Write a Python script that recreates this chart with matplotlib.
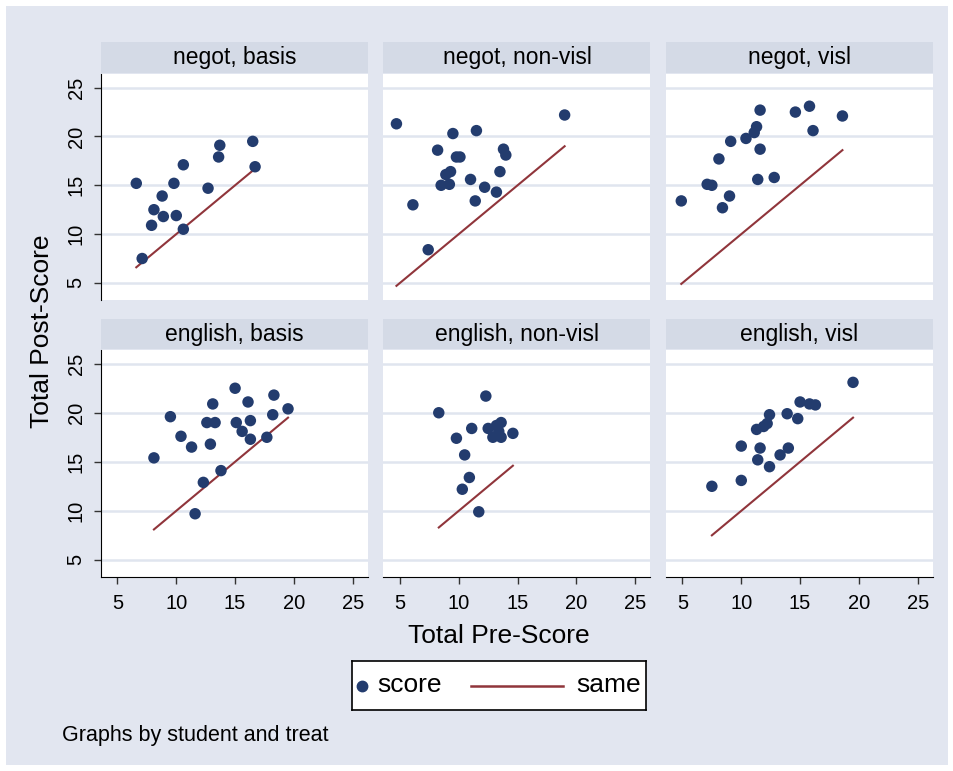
import matplotlib

matplotlib.use("Agg")
import matplotlib.pyplot as plt
from matplotlib.patches import Rectangle
from matplotlib.lines import Line2D

plt.rcParams["font.family"] = ["Liberation Sans", "DejaVu Sans"]

# panel titles (student, treat)
titles = [
    "negot, basis", "negot, non-visl", "negot, visl",
    "english, basis", "english, non-visl", "english, visl",
]

# pre-score / post-score per panel
pre_negot_basis = [6.6, 7.1, 7.9, 8.1, 8.8, 8.9, 10.0, 9.8, 10.6, 10.6, 12.7, 13.6, 13.7, 16.5, 16.7]
post_negot_basis = [15.2, 7.5, 10.9, 12.5, 13.9, 11.8, 11.9, 15.2, 17.1, 10.5, 14.7, 17.9, 19.1, 19.5, 16.9]

pre_negot_nonvisl = [4.7, 6.1, 7.4, 8.2, 9.5, 11.5, 9.8, 10.1, 8.9, 9.3, 8.5, 9.2,
                     11.0, 11.4, 12.2, 13.2, 13.5, 13.8, 14.0, 19.0]
post_negot_nonvisl = [21.3, 13.0, 8.4, 18.6, 20.3, 20.6, 17.9, 17.9, 16.1, 16.4, 15.0, 15.1,
                      15.6, 13.4, 14.8, 14.3, 16.4, 18.7, 18.1, 22.2]

pre_negot_visl = [4.9, 7.1, 7.5, 8.4, 9.0, 8.1, 9.1, 10.4, 11.1, 11.3, 11.6, 11.6,
                  11.4, 12.8, 14.6, 15.8, 16.1, 18.6]
post_negot_visl = [13.4, 15.1, 15.0, 12.7, 13.9, 17.7, 19.5, 19.8, 20.4, 21.0, 22.7, 18.7,
                   15.6, 15.8, 22.5, 23.1, 20.6, 22.1]

pre_english_basis = [8.1, 9.5, 10.4, 11.3, 11.6, 12.3, 12.6, 12.9, 13.1, 13.3, 13.8,
                     15.0, 15.1, 15.6, 16.1, 16.3, 16.3, 17.7, 18.3, 18.2, 19.5]
post_english_basis = [15.4, 19.6, 17.6, 16.5, 9.7, 12.9, 19.0, 16.8, 20.9, 19.0, 14.1,
                      22.5, 19.0, 18.1, 21.1, 19.2, 17.3, 17.5, 21.8, 19.8, 20.4]

pre_english_nonvisl = [8.3, 12.3, 9.8, 11.1, 10.5, 10.9, 10.3, 11.7, 12.5, 13.2, 13.6,
                       12.9, 13.6, 13.4, 14.6]
post_english_nonvisl = [20.0, 21.7, 17.4, 18.4, 15.7, 13.4, 12.2, 9.9, 18.4, 18.7, 19.0,
                        17.5, 17.5, 18.1, 17.9]

pre_english_visl = [7.5, 10.0, 10.0, 11.4, 11.6, 12.4, 13.3, 14.0, 11.3, 11.9, 12.2,
                    12.4, 13.9, 14.8, 15.0, 15.8, 16.3, 19.5]
post_english_visl = [12.5, 13.1, 16.6, 15.2, 16.4, 14.5, 15.7, 16.4, 18.3, 18.6, 18.9,
                     19.8, 19.9, 19.4, 21.1, 20.9, 20.8, 23.1]

pre_scores = [pre_negot_basis, pre_negot_nonvisl, pre_negot_visl,
              pre_english_basis, pre_english_nonvisl, pre_english_visl]
post_scores = [post_negot_basis, post_negot_nonvisl, post_negot_visl,
               post_english_basis, post_english_nonvisl, post_english_visl]

ticks = [5, 10, 15, 20, 25]

BG = "#e2e6f0"
STRIP = "#d4dae6"
GRID = "#e0e5ef"
NAVY = "#233c6e"
MAROON = "#90353b"

W, H = 954, 771
fig = plt.figure(figsize=(W / 100, H / 100), dpi=100)
fig.patch.set_facecolor("white")
fig.patches.append(Rectangle((6 / W, 6 / H), 942 / W, 759 / H, transform=fig.transFigure,
                             facecolor=BG, edgecolor="none", zorder=-10))


def px_axes(x0, y0, x1, y1):
    return fig.add_axes([x0 / W, 1 - y1 / H, (x1 - x0) / W, (y1 - y0) / H])


lefts = [101, 383.5, 666]
width = 267
rows = [(42, 74, 300), (319, 350, 577)]

for i in range(6):
    r, c = divmod(i, 3)
    s_top, p_top, p_bot = rows[r]
    x0 = lefts[c]

    strip = px_axes(x0, s_top, x0 + width, p_top - 1)
    strip.set_facecolor(STRIP)
    strip.set_xticks([])
    strip.set_yticks([])
    for sp in strip.spines.values():
        sp.set_visible(False)
    strip.text(0.5, 0.5, titles[i], ha="center", va="center", fontsize=16.5,
               transform=strip.transAxes)

    ax = px_axes(x0, p_top, x0 + width, p_bot)
    ax.set_facecolor("white")
    x = pre_scores[i]
    y = post_scores[i]
    ax.scatter(x, y, s=68, color=NAVY, edgecolors="none", zorder=3, label="score")
    xs = sorted(x)
    ax.plot(xs, xs, color=MAROON, lw=1.5, zorder=2, label="same")

    ax.set_xlim(3.6, 26.3)
    ax.set_ylim(3.25, 26.4)
    ax.set_xticks(ticks)
    ax.set_yticks(ticks)
    ax.grid(axis="y", color=GRID, lw=1.8, zorder=0)
    ax.set_axisbelow(True)
    for sp in ax.spines.values():
        sp.set_visible(False)

    if c == 0:
        ax.spines["left"].set_visible(True)
        ax.spines["left"].set_color("black")
        ax.tick_params(axis="y", length=5, width=1, color="#333333", pad=6,
                       labelsize=14.5)
        for lab in ax.get_yticklabels():
            lab.set_rotation(90)
            lab.set_va("center")
    else:
        ax.tick_params(axis="y", length=0, labelleft=False)

    if r == 1:
        ax.spines["bottom"].set_visible(True)
        ax.spines["bottom"].set_color("black")
        ax.tick_params(axis="x", length=5, width=1, color="#333333", pad=7,
                       labelsize=14.5)
    else:
        ax.tick_params(axis="x", length=0, labelbottom=False)

fig.text(42 / W, 1 - 331 / H, "Total Post-Score", rotation=90, ha="center",
         va="center", fontsize=19)
fig.text(499 / W, 1 - 636 / H, "Total Pre-Score", ha="center", va="center",
         fontsize=19)

# legend box
leg = px_axes(352, 661, 646, 710)
leg.set_facecolor("white")
leg.set_xlim(352, 646)
leg.set_ylim(0, 1)
leg.set_xticks([])
leg.set_yticks([])
for sp in leg.spines.values():
    sp.set_color("black")
    sp.set_linewidth(1.2)
leg.add_line(Line2D([362], [0.5], marker="o", markersize=7.5, color=NAVY, lw=0))
leg.text(377, 0.5, "score", ha="left", va="center", fontsize=19)
leg.add_line(Line2D([471, 563], [0.5, 0.5], color=MAROON, lw=1.8))
leg.text(576, 0.5, "same", ha="left", va="center", fontsize=19)

fig.text(62 / W, 1 - 735 / H, "Graphs by student and treat", ha="left",
         va="center", fontsize=15.5)

fig.savefig("out.png", dpi=100)
